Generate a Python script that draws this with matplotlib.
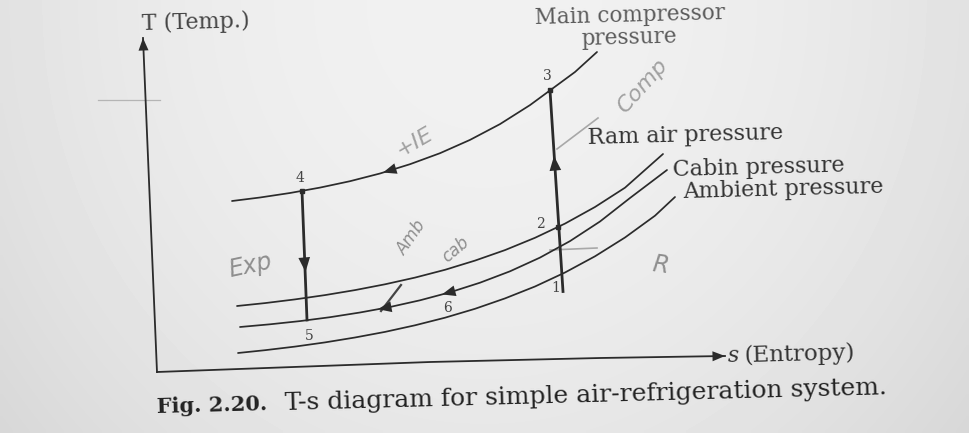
import matplotlib.pyplot as plt
import numpy as np

INK = "#2b2b2b"
PENCIL = "#8e8e8e"
SERIF = "DejaVu Serif"

# Constant-pressure lines on the T-s plane (s to the right, T measured downward on the page)
main_s = [232, 260, 290, 320, 350, 380, 410, 440, 470, 500, 530, 550, 575, 597]
main_T = [201, 197.5, 193, 187.6, 181.2, 173.5, 164.2, 153.2, 139.9, 124.1, 105.1, 90.4, 72, 52]

ram_s = [237, 265, 295, 325, 355, 385, 415, 445, 475, 505, 535, 565, 595, 625, 663]
ram_T = [306, 303.1, 299.4, 295.1, 290.1, 284.3, 277.6, 269.8, 260.6, 250.1, 237.8, 223.6, 207, 187.7, 154]

cabin_s = [240, 270, 300, 330, 360, 390, 420, 450, 480, 510, 540, 570, 600, 630, 667]
cabin_T = [327, 324.3, 321.1, 317.2, 312.5, 307, 300.3, 292.3, 282.7, 271.3, 257.6, 241.1, 221.5, 198, 170]

ambient_s = [238, 265, 295, 325, 355, 385, 415, 445, 475, 505, 535, 565, 595, 625, 655, 675]
ambient_T = [353, 350.2, 346.6, 342.4, 337.5, 331.9, 325.3, 317.7, 308.8, 298.4, 286.5, 272.5, 256.3, 237.5, 215.7, 197]

# State points 1..6
state_names = ["1", "2", "3", "4", "5", "6"]
state_s = [561, 558, 550, 302, 307, 447]
state_T = [274.5, 227, 90.4, 191, 320, 293]

# Axis lines
yaxis_s = [157, 143]
yaxis_T = [372, 38]
xaxis_s = [157, 430, 600, 725]
xaxis_T = [372, 362, 358, 356]

curve_labels = ["Ram air pressure", "Cabin pressure", "Ambient pressure"]
caption_bold = "Fig. 2.20."
caption_rest = "T-s diagram for simple air-refrigeration system."


def head(ax, tail, tip, size=13):
    ax.annotate("", xy=tip, xytext=tail,
                arrowprops=dict(arrowstyle="-|>,head_length=0.75,head_width=0.3",
                                color=INK, lw=0, shrinkA=0, shrinkB=0,
                                mutation_scale=size), zorder=4)


def head_on_curve(ax, s, T, at, step=-8, size=13):
    t0 = np.interp(at - step, s, T)
    t1 = np.interp(at, s, T)
    head(ax, (at - step, t0), (at, t1), size)


fig = plt.figure(figsize=(9.69, 4.33), dpi=100)
ax = fig.add_axes([0, 0, 1, 1])
ax.set_xlim(0, 969)
ax.set_ylim(433, 0)
ax.axis("off")

# paper shading: lighter in the middle, greyer towards the edges
gx, gy = np.meshgrid(np.linspace(0, 1, 200), np.linspace(0, 1, 90))
paper = 0.945 - 0.06 * ((gx - 0.5) * 2) ** 2 - 0.04 * gy ** 2
ax.imshow(paper, cmap="gray", vmin=0, vmax=1, extent=[0, 969, 433, 0],
          aspect="auto", zorder=0, interpolation="bilinear")

# axes
ax.plot(yaxis_s, yaxis_T, color=INK, lw=1.3, zorder=3)
ax.plot(xaxis_s, xaxis_T, color=INK, lw=1.3, zorder=3)
head(ax, (yaxis_s[1] + 0.5, yaxis_T[1] + 12), (yaxis_s[1], yaxis_T[1]), 12)
head(ax, (xaxis_s[-1] - 14, xaxis_T[-1] + 0.3), (xaxis_s[-1], xaxis_T[-1]), 12)
ax.plot([98, 160], [100, 100], color="#b5b5b5", lw=0.9, zorder=2)

ax.text(196, 23, "T (Temp.)", family=SERIF, fontsize=16, color="#444444",
        ha="center", va="center", rotation=1.5)
ax.text(728, 356, "s", family=SERIF, style="italic", fontsize=16, color="#333333",
        ha="left", va="center", rotation=1.5, rotation_mode="anchor")
ax.text(744, 356, "(Entropy)", family=SERIF, fontsize=16.5, color="#333333",
        ha="left", va="center", rotation=1.5, rotation_mode="anchor")

# pressure lines
for s, T in [(main_s, main_T), (ram_s, ram_T), (cabin_s, cabin_T), (ambient_s, ambient_T)]:
    ax.plot(s, T, color=INK, lw=1.25, solid_capstyle="round", zorder=3)

ax.text(630, 16, "Main compressor", family=SERIF, fontsize=15.5, color="#5a5a5a",
        ha="center", va="center", rotation=1.5)
ax.text(629, 38, "pressure", family=SERIF, fontsize=15.5, color="#5a5a5a",
        ha="center", va="center", rotation=1.5)
label_pos = [(588, 138), (673, 170), (683, 192)]
for (x, y), txt in zip(label_pos, curve_labels):
    ax.text(x, y, txt, family=SERIF, fontsize=16, color="#333333",
            ha="left", va="center", rotation=1.5, rotation_mode="anchor")

# processes 4-5 (expansion) and 1-2-3 (ram + compression)
ax.plot([state_s[3], state_s[4]], [state_T[3], state_T[4]], color=INK, lw=2.0, zorder=3)
ax.plot([state_s[0] + 2, state_s[2]], [state_T[0] + 17, state_T[2]], color=INK, lw=2.0, zorder=3)
ax.plot([state_s[i] for i in (1, 2, 3)], [state_T[i] for i in (1, 2, 3)], "s",
        color=INK, ms=3, zorder=4)

head(ax, (304, 255), (305.5, 272), 14)
head(ax, (555.5, 172), (554, 156), 14)
head_on_curve(ax, main_s, main_T, 383, step=-10)
head_on_curve(ax, cabin_s, cabin_T, 378, step=-10)
head_on_curve(ax, cabin_s, cabin_T, 442, step=-10)

state_off = [(-5, 13), (-18, -3), (-3, -14), (-2, -13), (2, 16), (1, 15)]
for name, s, T, (dx, dy) in zip(state_names, state_s, state_T, state_off):
    ax.text(s + dx, T + dy, name, family=SERIF, fontsize=10, color="#444444",
            ha="center", va="center")

# pencil notes
ax.text(250, 266, "Exp", fontsize=17, color=PENCIL, style="italic",
        ha="center", va="center", rotation=12)
ax.text(412, 238, "Amb", fontsize=12, color=PENCIL, style="italic",
        ha="center", va="center", rotation=55)
ax.text(455, 250, "cab", fontsize=12, color=PENCIL, style="italic",
        ha="center", va="center", rotation=40)
ax.text(415, 142, "+IE", fontsize=16, color="#a0a0a0", style="italic",
        ha="center", va="center", rotation=30)
ax.text(642, 86, "Comp", fontsize=16, color="#a0a0a0", style="italic",
        ha="center", va="center", rotation=48)
ax.text(660, 265, "R", fontsize=17, color=PENCIL, style="italic",
        ha="center", va="center", rotation=-8)
ax.plot([598, 557], [118, 149], color="#a8a8a8", lw=1.2, zorder=2)
ax.plot([550, 597], [250, 248], color="#a8a8a8", lw=1.2, zorder=2)
ax.plot([401, 381], [285, 311], color="#444444", lw=1.6, zorder=3)

# caption
ax.text(157, 407, caption_bold, family=SERIF, weight="bold", fontsize=15,
        color="#222222", ha="left", va="center", rotation=1.5, rotation_mode="anchor")
ax.text(285, 404, caption_rest, family=SERIF, fontsize=18, color="#222222",
        ha="left", va="center", rotation=1.5, rotation_mode="anchor")

fig.savefig("out.png", dpi=100)
